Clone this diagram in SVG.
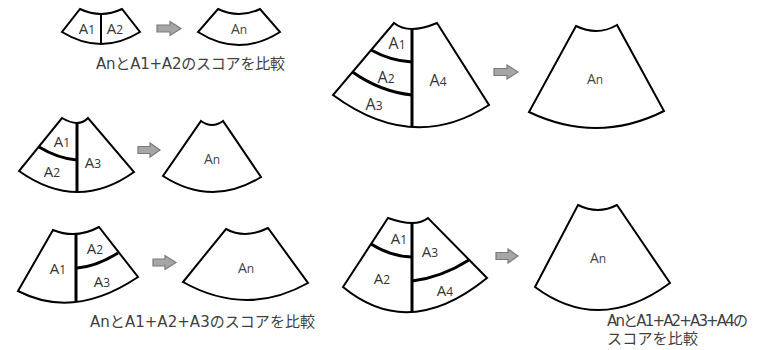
<svg xmlns="http://www.w3.org/2000/svg" width="771" height="350" viewBox="0 0 771 350">
<style>
.shape{fill:#fff;stroke:#000;stroke-width:2;stroke-linejoin:miter}
.div{fill:none;stroke:#000;stroke-width:3}
.lbl{font-family:"Open Sans","Noto Sans CJK JP",sans-serif;font-size:15px;fill:#333;text-anchor:middle}
.big{font-size:16px}
.sub{font-size:12px}
.an{fill:#444;font-size:14px}
.cap{font-family:"DejaVu Sans","Noto Sans CJK JP",sans-serif;font-size:15px;fill:#404040}
.arr{fill:#a6a6a6;stroke:#7a7a7a;stroke-width:1.2}
</style>
<rect width="771" height="350" fill="#fff"/>

<g id="split-a1-a2">
<path class="shape" d="M80,9 Q101,19 122,9 L140,32 Q101,56 62,32 Z"/>
<line class="div" style="stroke-width:2" x1="101" y1="14" x2="101" y2="44"/>
<text class="lbl" x="87" y="34">A<tspan class="sub">1</tspan></text>
<text class="lbl" x="115" y="34">A<tspan class="sub">2</tspan></text>
</g>
<g id="an-1">
<path class="shape" d="M218,9 Q239,19 260,9 L280,32 Q239,58 198,32 Z"/>
<text class="lbl an" x="239" y="34">A<tspan class="sub">n</tspan></text>
</g>
<text id="caption-1" class="cap" x="96" y="69" textLength="189">AnとA1+A2のスコアを比較</text>

<g id="split-a1-a2-a3">
<path class="shape" d="M62,118 Q79,128 88,118 L134,172 Q77.5,212.5 19,171 Z"/>
<line class="div" x1="77" y1="123" x2="77" y2="192"/>
<path class="div" d="M39,147 Q58,158.5 77,160"/>
<text class="lbl" x="62" y="147">A<tspan class="sub">1</tspan></text>
<text class="lbl" x="52" y="177">A<tspan class="sub">2</tspan></text>
<text class="lbl" x="93" y="168">A<tspan class="sub">3</tspan></text>
</g>
<g id="an-2">
<path class="shape" d="M201,121 Q212,129 223,121 L261,177 Q212,207.5 163,176 Z"/>
<text class="lbl an" x="212" y="164">A<tspan class="sub">n</tspan></text>
</g>

<g id="split-a1-a2a3">
<path class="shape" d="M53,230 Q76,239.5 99,227 L138,277 Q74,320 18,291 Z"/>
<line class="div" x1="76" y1="234" x2="76" y2="302"/>
<path class="div" d="M77,268 Q96.5,266.5 118,253"/>
<text class="lbl" x="58" y="274">A<tspan class="sub">1</tspan></text>
<text class="lbl" x="95" y="254">A<tspan class="sub">2</tspan></text>
<text class="lbl" x="102" y="287">A<tspan class="sub">3</tspan></text>
</g>
<g id="an-3">
<path class="shape" d="M226,229 Q245,239.5 268,228 L308,283 Q246.5,317.5 183,282 Z"/>
<text class="lbl an" x="246" y="273">A<tspan class="sub">n</tspan></text>
</g>
<text id="caption-3" class="cap" x="90" y="327" textLength="225">AnとA1+A2+A3のスコアを比較</text>

<g id="split-a1-a2-a3-a4">
<path class="shape" d="M394,23 Q408.5,35 437,23 L489,105 Q413,154 333,95 Z"/>
<line class="div" x1="412" y1="29" x2="412" y2="127"/>
<path class="div" d="M371,50 Q391,61 412,62"/>
<path class="div" d="M352.5,72 Q380,91.5 412,95"/>
<text class="lbl big" x="397" y="49">A<tspan class="sub">1</tspan></text>
<text class="lbl big" x="386" y="83">A<tspan class="sub">2</tspan></text>
<text class="lbl big" x="374" y="110">A<tspan class="sub">3</tspan></text>
<text class="lbl big" x="438" y="86">A<tspan class="sub">4</tspan></text>
</g>
<g id="an-4">
<path class="shape" d="M576,26 Q597.5,36.5 617,25 L664,111 Q597.5,144.5 529,112 Z"/>
<text class="lbl an" x="595" y="84">A<tspan class="sub">n</tspan></text>
</g>

<g id="split-a1a2-a3a4">
<path class="shape" d="M388,218 Q416,228 428,218 L487,278 Q409,341.5 343,287 Z"/>
<line class="div" x1="412" y1="223" x2="412" y2="312"/>
<path class="div" d="M371,244 Q391,256.5 412,257"/>
<path class="div" d="M469,260 Q441.5,277.5 412,281"/>
<text class="lbl" x="399" y="244">A<tspan class="sub">1</tspan></text>
<text class="lbl" x="382" y="284">A<tspan class="sub">2</tspan></text>
<text class="lbl" x="430" y="257">A<tspan class="sub">3</tspan></text>
<text class="lbl" x="445" y="296">A<tspan class="sub">4</tspan></text>
</g>
<g id="an-5">
<path class="shape" d="M578,205 Q598,215 617,205 L670,283 Q599.5,335 535,287 Z"/>
<text class="lbl an" x="598" y="263">A<tspan class="sub">n</tspan></text>
</g>
<g id="caption-4" class="cap">
<text x="607" y="326" textLength="141">AnとA1+A2+A3+A4の</text>
<text x="607" y="344" textLength="91">スコアを比較</text>
</g>

<g id="connectors">
<path class="arr" d="M157,25 H170 V21.5 L181,28.5 L170,35.5 V32 H157 Z"/>
<path class="arr" d="M138,146.5 H150 V143 L160,150 L150,157 V153.5 H138 Z"/>
<path class="arr" d="M494,68.5 H507 V65 L518,72 L507,79 V75.5 H494 Z"/>
<path class="arr" d="M153,259 H165 V255.5 L176,262.5 L165,269.5 V266 H153 Z"/>
<path class="arr" d="M496,252.5 H508 V249 L518,256 L508,263 V259.5 H496 Z"/>
</g>
</svg>
